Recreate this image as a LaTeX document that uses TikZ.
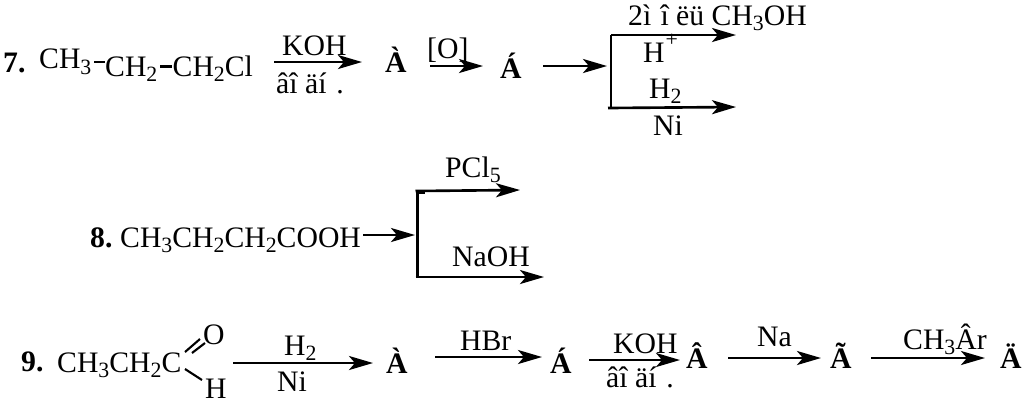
\documentclass[tikz,border=0pt]{standalone}
\usepackage{fontspec}
\setmainfont{Liberation Serif}
\usetikzlibrary{arrows.meta}
\newcommand{\dn}[1]{\raisebox{-0.19em}{\fontsize{6.2}{7}\selectfont #1}}
\tikzset{
  txt/.style={anchor=base west,inner sep=0pt,font=\fontsize{8.45}{10}\selectfont},
  num/.style={txt,font=\fontsize{8.45}{10}\selectfont\bfseries},
  rxn/.style={line width=0.75pt,-{Stealth[length=2.4mm,width=1.4mm,inset=0.6mm]}},
  bar/.style={line width=0.75pt},
  bond/.style={line width=0.6pt}
}
\begin{document}
\begin{tikzpicture}[x=0.01cm,y=-0.01cm]
    \useasboundingbox (0,0) rectangle (1024,402);

    % --------------------------------------------------------- %
    % ------------- reaction 7
    % --------------------------------------------------------- %
    \node[num] (sept) at (2.5,72) {7.};
    \node[txt] (chtrois) at (38.5,68.5) {CH\dn{3}};
    \node[txt] (chdeux) at (104.5,76) {CH\dn{2}};
    \node[txt] (chlor) at (172,76) {CH\dn{2}Cl};
    \draw[bond,shorten <=0.02cm] (chtrois.east) -- (chtrois.east -| chdeux.west);
    \draw[bond,shorten <=0.02cm] ([yshift=0.025cm]chdeux.east) -- ([yshift=0.025cm]chdeux.east -| chlor.west);

    \coordinate (s1) at (274,62);
    \coordinate (e1) at (362,62);
    \draw[rxn] (s1) -- (e1);
    \node[txt] (koh1) at (281.5,55) {KOH};
    \node[txt] (solv1) at (275.5,93) {âî äí\kern.08em\ .};
    \node[num] (a1) at (384.5,72) {À};

    \coordinate (s2) at (430,66);
    \coordinate (e2) at (483,66);
    \draw[rxn] (s2) -- (e2);
    \node[txt] (oxy) at (426.5,58) {[O]};
    \node[num] (b1) at (499.5,78) {Á};

    % ------------ branch
    \coordinate (s3) at (543,66);
    \coordinate (e3) at (607,66);
    \draw[rxn] (s3) -- (e3);
    \coordinate (up1) at (611,35);
    \coordinate (low1) at (611,108);
    \coordinate (upe1) at (736,35);
    \coordinate (lowe1) at (736,107);
    \draw[bar] (up1) -- (low1);
    \draw[rxn] (up1) -- (upe1);
    \draw[rxn] ([xshift=-0.03cm]low1) -- (lowe1);
    \node[txt] (meth) at (627.5,25) {2ì\kern.06em\ î ëü CH\dn{3}OH};
    \node[txt] (acid) at (642.5,62) {H};
    \node[txt,font=\fontsize{6.2}{7}\selectfont] (plus) at (665,46) {+};
    \node[txt] (hyd1) at (648.5,98) {H\dn{2}};
    \node[txt] (ni1) at (652.5,135) {Ni};

    % --------------------------------------------------------- %
    % ------------- reaction 8
    % --------------------------------------------------------- %
    \node[num] (huit) at (89.5,247) {8.};
    \node[txt] (butyr) at (119.5,247) {CH\dn{3}CH\dn{2}CH\dn{2}COOH};
    \coordinate (s4) at (363,235);
    \coordinate (e4) at (415,235);
    \draw[rxn] (s4) -- (e4);
    \coordinate (up2) at (417.5,191);
    \coordinate (low2) at (417.5,277);
    \coordinate (upe2) at (520,190);
    \coordinate (lowe2) at (544,277);
    \draw[bar] (up2) -- (low2);
    \draw[rxn] ([xshift=-0.02cm]up2) -- (upe2);
    \draw[rxn] ([xshift=-0.02cm]low2) -- (lowe2);
    \draw[bond] ([yshift=-0.02cm]up2) -- ([xshift=0.07cm,yshift=-0.02cm]up2);
    \node[txt] (pcl) at (444.5,177) {PCl\dn{5}};
    \node[txt] (soude) at (451.5,266) {NaOH};

    % --------------------------------------------------------- %
    % ------------- reaction 9
    % --------------------------------------------------------- %
    \node[num] (neuf) at (20.5,371) {9.};
    \node[txt] (ald) at (56.5,372) {CH\dn{3}CH\dn{2}C};
    \node[txt] (oald) at (202.5,344) {O};
    \node[txt] (hald) at (204.5,398) {H};
    \coordinate (do1) at (185,352);
    \coordinate (do2) at (200,339);
    \coordinate (do3) at (192,353);
    \coordinate (do4) at (205,343);
    \coordinate (si1) at (185,369);
    \coordinate (si2) at (202,380);
    \draw[bond] (do1) -- (do2);
    \draw[bond] (do3) -- (do4);
    \draw[bond] (si1) -- (si2);

    \coordinate (s5) at (233,363);
    \coordinate (e5) at (373,363);
    \draw[rxn] (s5) -- (e5);
    \node[txt] (hyd2) at (283.5,355) {H\dn{2}};
    \node[txt] (ni2) at (276.5,391) {Ni};
    \node[num] (a2) at (385.5,373) {À};

    \coordinate (s6) at (435,357);
    \coordinate (e6) at (542,357);
    \draw[rxn] (s6) -- (e6);
    \node[txt] (hbr) at (459.5,350) {HBr};
    \node[num] (b2) at (549.5,373) {Á};

    \coordinate (s7) at (589,360);
    \coordinate (e7) at (680,360);
    \draw[rxn] (s7) -- (e7);
    \node[txt] (koh2) at (612.5,353) {KOH};
    \node[txt] (solv2) at (605.5,387) {âî äí\kern.08em\ .};
    \node[num] (c2) at (685.5,368) {Â};

    \coordinate (s8) at (728,358);
    \coordinate (e8) at (821,358);
    \draw[rxn] (s8) -- (e8);
    \node[txt] (sod) at (756.5,346) {Na};
    \node[num] (d2) at (829.5,368) {Ã};

    \coordinate (s9) at (871,358);
    \coordinate (e9) at (985,358);
    \draw[rxn] (s9) -- (e9);
    \node[txt] (brom) at (902.5,349) {CH\dn{3}Âr};
    \node[num] (e2n) at (999.5,368) {Ä};

  \end{tikzpicture}
\end{document}
